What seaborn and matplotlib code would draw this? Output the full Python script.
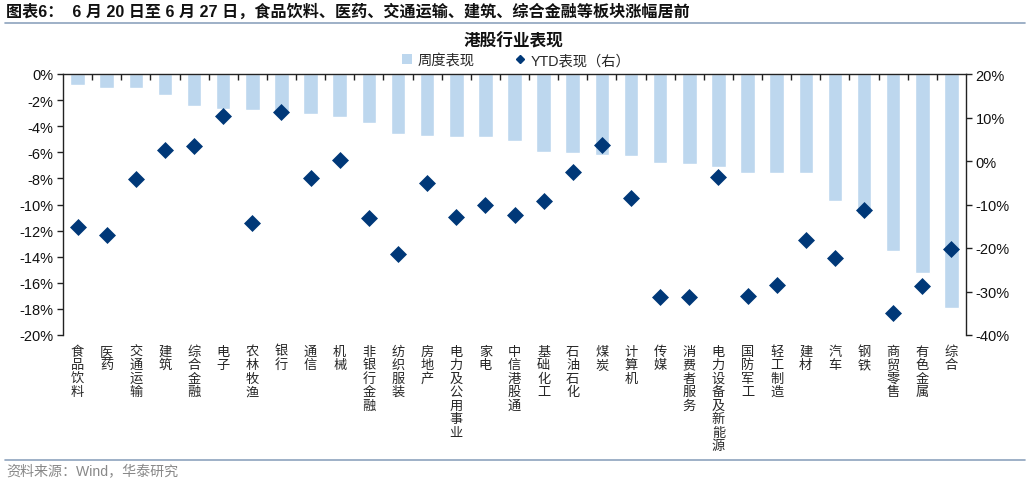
import matplotlib
matplotlib.use("Agg")
import matplotlib.pyplot as plt
import seaborn as sns
import pandas as pd
import numpy as np
from matplotlib.lines import Line2D
from matplotlib.patches import Patch
from matplotlib.ticker import FuncFormatter, MultipleLocator, FixedLocator

categories = ["食品饮料", "医药", "交通运输", "建筑", "综合金融", "电子", "农林牧渔", "银行",
              "通信", "机械", "非银行金融", "纺织服装", "房地产", "电力及公用事业", "家电",
              "中信港股通", "基础化工", "石油石化", "煤炭", "计算机", "传媒", "消费者服务",
              "电力设备及新能源", "国防军工", "轻工制造", "建材", "汽车", "钢铁", "商贸零售",
              "有色金属", "综合"]
weekly = [-0.82, -1.05, -1.07, -1.63, -2.43, -2.68, -2.73, -2.85, -3.09, -3.27, -3.73,
          -4.62, -4.73, -4.83, -4.85, -5.16, -6.00, -6.05, -6.18, -6.28, -6.79, -6.90,
          -7.10, -7.56, -7.56, -7.59, -9.73, -10.70, -13.60, -15.25, -17.96]
ytd = [-15.1, -17.1, -4.2, 2.5, 3.4, 10.4, -14.3, 11.3, -4.0, 0.15, -13.1, -21.3, -5.0,
       -12.9, -10.0, -12.3, -9.2, -2.5, 3.6, -8.6, -31.2, -31.2, -3.6, -31.0, -28.4,
       -18.2, -22.4, -11.2, -35.0, -28.8, -20.3]

bar_color = "#BDD7EE"
dia_color = "#003878"

sns.set_theme(style="white")
plt.rcParams["font.family"] = ["Liberation Sans", "Noto Sans CJK SC", "DejaVu Sans"]

df = pd.DataFrame({"cat": categories, "weekly": weekly, "ytd": ytd})

fig = plt.figure(figsize=(10.3, 4.85), dpi=100)
ax = fig.add_axes([63/1030, 1-336/485, (966-63)/1030, (336-75)/485])
sns.barplot(data=df, x="cat", y="weekly", color=bar_color, saturation=1, width=0.5, ax=ax)
ax2 = ax.twinx()
sns.scatterplot(data=df, x="cat", y="ytd", marker="D", s=75, color=dia_color,
                edgecolor=dia_color, linewidth=0, ax=ax2, zorder=5)

ax.set_xlim(-0.5, len(categories) - 0.5)
ax.set_ylim(-20, 0)
ax2.set_ylim(-40, 20)
ax.yaxis.set_major_locator(MultipleLocator(2))
ax2.yaxis.set_major_locator(MultipleLocator(10))
pct = FuncFormatter(lambda v, p: f"{v:.0f}%")
ax.yaxis.set_major_formatter(pct)
ax2.yaxis.set_major_formatter(pct)
ax.set_xlabel("")
ax.set_ylabel("")
ax2.set_ylabel("")
ax2.set_xlabel("")

for a in (ax, ax2):
    for s in a.spines.values():
        s.set_visible(False)
ax.spines["left"].set_visible(True)
ax.spines["top"].set_visible(True)
ax2.spines["right"].set_visible(True)
for s in (ax.spines["left"], ax.spines["top"], ax2.spines["right"]):
    s.set_color("#222222")
    s.set_linewidth(1.0)

ax.set_xticks(range(len(categories)))
ax.set_xticklabels(["\n".join(c) for c in categories], fontsize=9.5,
                   family=["Noto Sans CJK SC"], linespacing=1.05, va="top")
ax.tick_params(axis="x", which="major", length=0, pad=7, bottom=True, top=False)
ax.xaxis.set_minor_locator(FixedLocator(np.arange(0.5, len(categories) - 1, 1.0)))
ax.tick_params(axis="x", which="minor", top=True, bottom=False, direction="in",
               length=4, width=1, color="#222222")
ax.tick_params(axis="y", which="major", left=True, direction="out", length=4, width=1,
               color="#222222", labelsize=10.5, labelcolor="#111111", pad=3)
ax2.tick_params(axis="y", which="major", right=True, direction="out", length=4, width=1,
                color="#222222", labelsize=10.5, labelcolor="#111111", pad=3)
ax2.grid(False)
ax.grid(False)
if ax2.get_legend() is not None:
    ax2.get_legend().remove()

# titles and decorations
fig.text(6/1030, 1-12/485, "图表6：  6 月 20 日至 6 月 27 日，食品饮料、医药、交通运输、建筑、综合金融等板块涨幅居前",
         fontsize=11.6, fontweight="bold", va="center", ha="left", color="#111111",
         family=["Liberation Sans", "Noto Sans CJK SC"])
fig.add_artist(Line2D([0.005, 0.995], [1-24/485, 1-24/485], color="#8EA3BE", linewidth=1.2))
fig.text(513/1030, 1-42/485, "港股行业表现", fontsize=12, fontweight="bold", ha="center",
         va="center", color="#111111", family=["Noto Sans CJK SC"])
handles = [Patch(facecolor=bar_color, edgecolor="none", label="周度表现"),
           Line2D([], [], marker="D", linestyle="none", color=dia_color, markersize=4.5,
                  label="YTD表现（右）")]
fig.legend(handles=handles, loc="center", bbox_to_anchor=(516/1030, 1-61/485), ncol=2,
           frameon=False, handlelength=0.7, handletextpad=0.4,
           columnspacing=2.8, prop={"family": ["Liberation Sans", "Noto Sans CJK SC"], "size": 10.3})
fig.add_artist(Line2D([0.005, 0.995], [1-461/485, 1-461/485], color="#8EA3BE", linewidth=1.2))
fig.text(6/1030, 1-472/485, "资料来源：Wind，华泰研究", fontsize=10.1, color="#888888",
         va="center", ha="left", family=["Liberation Sans", "Noto Sans CJK SC"])

fig.savefig("out.png", dpi=100)
